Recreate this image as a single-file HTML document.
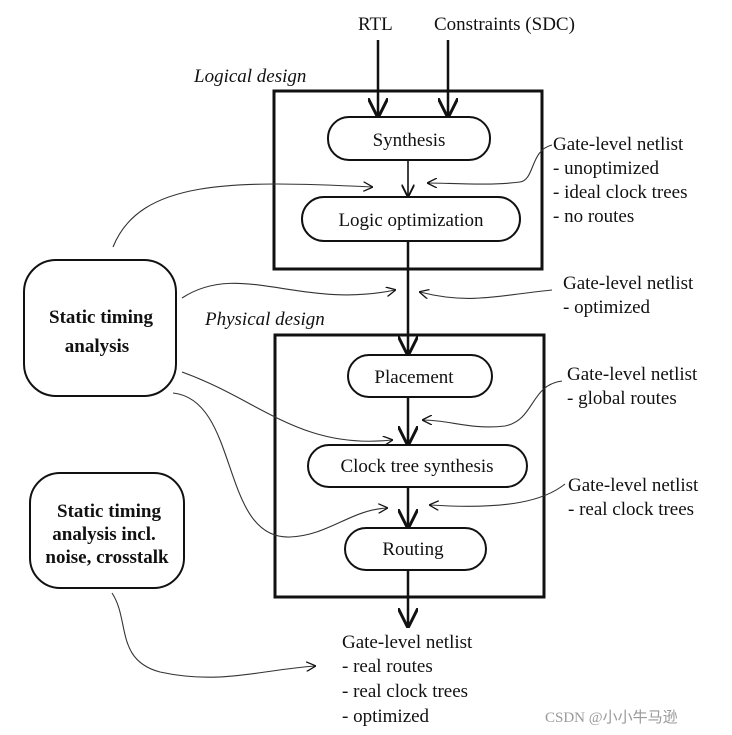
<!DOCTYPE html>
<html><head><meta charset="utf-8"><style>
body{margin:0;background:#fff;}
svg{display:block;}
text{font-family:"Liberation Serif",serif;fill:#111;}
</style></head><body>
<svg width="732" height="735" viewBox="0 0 732 735" xmlns="http://www.w3.org/2000/svg">
<defs>
<marker id="a" viewBox="0 0 10 10" refX="9" refY="5" markerWidth="8" markerHeight="8" orient="auto"><path d="M0,0 L10,5 L0,10" fill="none" stroke="#111" stroke-width="1.5"/></marker>
<marker id="b" viewBox="0 0 10 10" refX="9" refY="5" markerWidth="9" markerHeight="9" orient="auto"><path d="M0,0 L10,5 L0,10" fill="none" stroke="#111" stroke-width="1.3"/></marker>
</defs>
<g font-size="19">
<text x="358" y="30">RTL</text>
<text x="434" y="30">Constraints (SDC)</text>
<text x="194" y="82" font-style="italic">Logical design</text>
<text x="205" y="325" font-style="italic">Physical design</text>
</g>
<rect x="274" y="91" width="268" height="178" fill="none" stroke="#111" stroke-width="3"/>
<rect x="275" y="335" width="269" height="262" fill="none" stroke="#111" stroke-width="3"/>
<line x1="378" y1="40" x2="378" y2="116" stroke="#111" stroke-width="2.5" marker-end="url(#a)"/>
<line x1="448" y1="40" x2="448" y2="116" stroke="#111" stroke-width="2.5" marker-end="url(#a)"/>
<line x1="408" y1="160" x2="408" y2="196" stroke="#111" stroke-width="1.6" marker-end="url(#a)"/>
<line x1="408" y1="241" x2="408" y2="354" stroke="#111" stroke-width="2.5" marker-end="url(#a)"/>
<line x1="408" y1="397" x2="408" y2="444" stroke="#111" stroke-width="2.5" marker-end="url(#a)"/>
<line x1="408" y1="487" x2="408" y2="527" stroke="#111" stroke-width="2.5" marker-end="url(#a)"/>
<line x1="408" y1="569" x2="408" y2="626" stroke="#111" stroke-width="2.5" marker-end="url(#a)"/>
<g fill="#fff" stroke="#111" stroke-width="2">
<rect x="328" y="117" width="162" height="43" rx="21"/>
<rect x="302" y="197" width="218" height="44" rx="22"/>
<rect x="348" y="355" width="144" height="42" rx="21"/>
<rect x="308" y="445" width="219" height="42" rx="21"/>
<rect x="345" y="528" width="141" height="42" rx="21"/>
<rect x="24" y="260" width="152" height="136" rx="32"/>
<rect x="30" y="473" width="154" height="115" rx="30"/>
</g>
<g font-size="19" text-anchor="middle">
<text x="409" y="146">Synthesis</text>
<text x="411" y="226">Logic optimization</text>
<text x="414" y="383">Placement</text>
<text x="417" y="472">Clock tree synthesis</text>
<text x="413" y="555">Routing</text>
</g>
<g font-size="19" font-weight="bold" text-anchor="middle">
<text x="101" y="323">Static timing</text>
<text x="97" y="352">analysis</text>
<text x="109" y="517">Static timing</text>
<text x="104" y="540">analysis incl.</text>
<text x="107" y="563">noise, crosstalk</text>
</g>
<g font-size="19">
<text x="553" y="150">Gate-level netlist</text>
<text x="553" y="174">- unoptimized</text>
<text x="553" y="198">- ideal clock trees</text>
<text x="553" y="222">- no routes</text>
<text x="563" y="289">Gate-level netlist</text>
<text x="563" y="313">- optimized</text>
<text x="567" y="380">Gate-level netlist</text>
<text x="567" y="404">- global routes</text>
<text x="568" y="491">Gate-level netlist</text>
<text x="568" y="515">- real clock trees</text>
<text x="342" y="648">Gate-level netlist</text>
<text x="342" y="672">- real routes</text>
<text x="342" y="697">- real clock trees</text>
<text x="342" y="722">- optimized</text>
</g>
<text x="545" y="722" font-family="Liberation Sans,sans-serif" font-size="15" style="fill:#999">CSDN @小小牛马逊</text>
<g fill="none" stroke="#333" stroke-width="1.1">
<path d="M552,145 C530,150 535,180 520,182 C490,186 450,183 428,183" marker-end="url(#b)"/>
<path d="M113,247 C140,180 230,180 372,187" marker-end="url(#b)"/>
<path d="M182,298 C240,260 300,310 395,290" marker-end="url(#b)"/>
<path d="M552,290 C500,295 470,305 420,292" marker-end="url(#b)"/>
<path d="M182,372 C260,400 300,450 392,440" marker-end="url(#b)"/>
<path d="M562,381 C530,385 535,420 505,426 C470,430 450,420 423,420" marker-end="url(#b)"/>
<path d="M173,393 C240,400 220,540 290,537 C330,535 350,510 387,508" marker-end="url(#b)"/>
<path d="M565,484 C545,500 510,510 430,505" marker-end="url(#b)"/>
<path d="M112,593 C130,620 115,660 160,672 C220,685 260,670 315,666" marker-end="url(#b)"/>
</g>
</svg>
</body></html>
